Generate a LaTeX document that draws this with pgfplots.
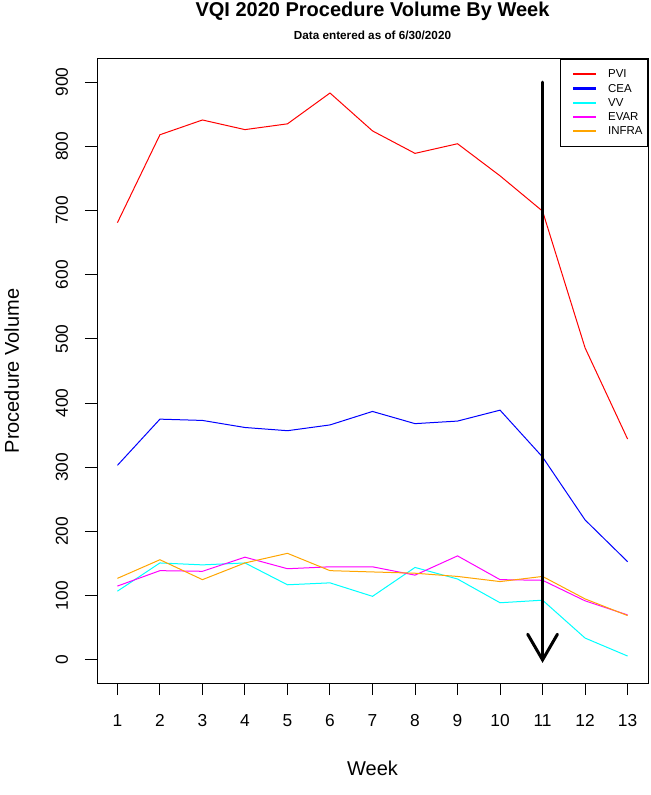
\documentclass[border=0pt]{standalone}
\usepackage{pgfplots}
\pgfplotsset{compat=1.18}
\usepackage{fontspec}
\setmainfont{Liberation Sans}
\definecolor{rred}{rgb}{1,0,0}
\definecolor{rblue}{rgb}{0,0,1}
\definecolor{rcyan}{rgb}{0,1,1}
\definecolor{rmag}{rgb}{1,0,1}
\definecolor{rorange}{rgb}{1,0.647,0}
\begin{document}
\begin{tikzpicture}
\useasboundingbox (-72.75pt,-84pt) rectangle (414.75pt,512.25pt);
\begin{axis}[
  scale only axis,
  width=413.25pt, height=468pt,
  at={(0pt,0pt)}, anchor=south west,
  xmin=0.52, xmax=13.48,
  ymin=-36, ymax=936,
  xtick={1,2,3,4,5,6,7,8,9,10,11,12,13},
  ytick={0,100,200,300,400,500,600,700,800,900},
  xtick pos=bottom, ytick pos=left,
  tick align=outside,
  major tick length=9pt,
  tick style={black, line width=0.75pt},
  axis line style={black, line width=0.75pt},
  /pgf/number format/assume math mode=true,
  tick label style={font=\fontsize{13}{15}\selectfont},
  xticklabel style={anchor=base, yshift=-23.25pt},
  yticklabel style={xshift=-12.75pt, rotate=90, anchor=base},
  clip=false,
  legend style={at={(rel axis cs:1,1)}, anchor=north east, draw=black, line width=0.75pt,
    font=\fontsize{8.6}{10}\selectfont, inner xsep=3.75pt, inner ysep=7.25pt,
    row sep=2.7pt, column sep=0pt,
    nodes={inner sep=0pt, text height=6.5pt, text depth=1.5pt},
    /tikz/every odd column/.append style={column sep=8.25pt}},
  legend cell align=left,
  legend image code/.code={\draw[#1,line width=1.5pt,shorten <=5.25pt] (0pt,0.2pt) -- (22.5pt,0.2pt);},
]
\addplot[rred, line width=0.75pt] coordinates {(1,681) (2,818) (3,841) (4,826) (5,835) (6,883) (7,824) (8,789) (9,804) (10,754) (11,699) (12,486) (13,344)};
\addlegendentry{PVI}
\addplot[rblue, line width=0.75pt] coordinates {(1,303) (2,375) (3,373) (4,362) (5,357) (6,366) (7,387) (8,368) (9,372) (10,389) (11,316) (12,218) (13,153)};
\addlegendentry{CEA}
\addplot[rcyan, line width=0.75pt] coordinates {(1,107) (2,151) (3,148) (4,151) (5,117) (6,120) (7,99) (8,144) (9,126) (10,89) (11,93) (12,34) (13,6)};
\addlegendentry{VV}
\addplot[rmag, line width=0.75pt] coordinates {(1,115) (2,139) (3,138) (4,160) (5,142) (6,145) (7,145) (8,132) (9,162) (10,125) (11,124) (12,92) (13,70)};
\addlegendentry{EVAR}
\addplot[rorange, line width=0.75pt] coordinates {(1,127) (2,156) (3,125) (4,151) (5,166) (6,139) (7,137) (8,135) (9,130) (10,122) (11,130) (12,95) (13,69)};
\addlegendentry{INFRA}
\addplot[black, line width=2.25pt, line cap=round, forget plot] coordinates {(11,900) (11,0)};
\addplot[black, line width=2.25pt, line cap=round, line join=miter, forget plot] coordinates {(10.65,40) (11,0) (11.35,40)};
\node[anchor=base, font=\fontsize{15}{18}\selectfont\bfseries, yshift=31.5pt] at (rel axis cs:0.5,1) {VQI 2020 Procedure Volume By Week};
\node[anchor=base, font=\fontsize{8.8}{10}\selectfont\bfseries, yshift=14.5pt] at (rel axis cs:0.5,1) {Data entered as of 6/30/2020};
\node[anchor=base, font=\fontsize{15}{18}\selectfont, yshift=-69pt] at (rel axis cs:0.5,0) {Week};
\node[xshift=-58.5pt, rotate=90, anchor=base, font=\fontsize{15}{18}\selectfont] at (rel axis cs:0,0.5) {Procedure Volume};
\end{axis}
\end{tikzpicture}
\end{document}
